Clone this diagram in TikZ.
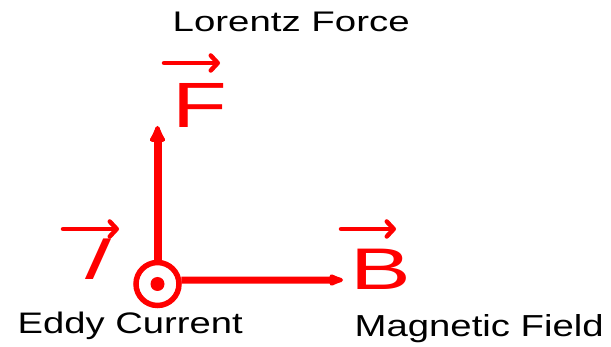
\documentclass[tikz,border=0pt]{standalone}
\usepackage{fontspec}
\setmainfont{Liberation Sans}
\usepackage{graphicx}
\usetikzlibrary{arrows.meta}
\begin{document}
\begin{tikzpicture}[x=1pt,y=-1pt,
  mainv/.style={red, line width=8pt, -{Latex[length=21pt,width=19pt,round]}},
  mainh/.style={red, line width=7pt, -{Latex[length=21pt,width=14pt,round]}},
  vecarrow/.style={red, line width=4.5pt, line cap=round, -{Straight Barb[length=7pt,width=15pt,line cap=round,line join=round]}},
  lbl/.style={inner sep=0pt, anchor=base west, text=black},
  sym/.style={inner sep=0pt, anchor=base west, text=red},
  ring/.style={circle, draw=red, line width=5.5pt, minimum size=43pt, inner sep=0pt}]
\useasboundingbox (0,0) rectangle (611,347);
% eddy current symbol
\node[ring] (ec) at (157.5,284) {};
\fill[red] (ec.center) circle (7);
% force and field arrows
\coordinate (Ftip) at (157.5,126);
\coordinate (Btip) at (343,280);
\draw[mainv] (ec.north) -- (Ftip);
\draw[mainh] (ec.9.5) -- (Btip);
% vector symbols
\node[sym] (F) at (172.7,128) {\scalebox{1.4}[1]{\fontsize{64}{64}\selectfont F}};
\node[sym] (B) at (350.4,290) {\scalebox{1.55}[1]{\fontsize{58.7}{60}\selectfont B}};
\begin{scope}[shift={(77,280)}, xslant=0.45]
  \node[sym, transform shape] (I) at (0,0) {\scalebox{1.45}[1]{\fontsize{59}{60}\selectfont I}};
\end{scope}
\coordinate (Fa) at (164,63);  \coordinate (Fb) at (220,63);
\coordinate (Ba) at (341,229); \coordinate (Bb) at (396,229);
\coordinate (Ia) at (63,229);  \coordinate (Ib) at (119,229);
\draw[vecarrow] (Fa) -- (Fb);
\draw[vecarrow] (Ba) -- (Bb);
\draw[vecarrow] (Ia) -- (Ib);
% labels
\node[lbl] (lf) at (172.5,32) {\resizebox{237pt}{19.5pt}{Lorentz Force}};
\node[lbl] (ed) at (17.5,334) {\resizebox{225pt}{21.5pt}{Eddy Current}};
\node[lbl] (mf) at (354.5,337) {\resizebox{249pt}{22pt}{Magnetic Field}};
\end{tikzpicture}
\end{document}
